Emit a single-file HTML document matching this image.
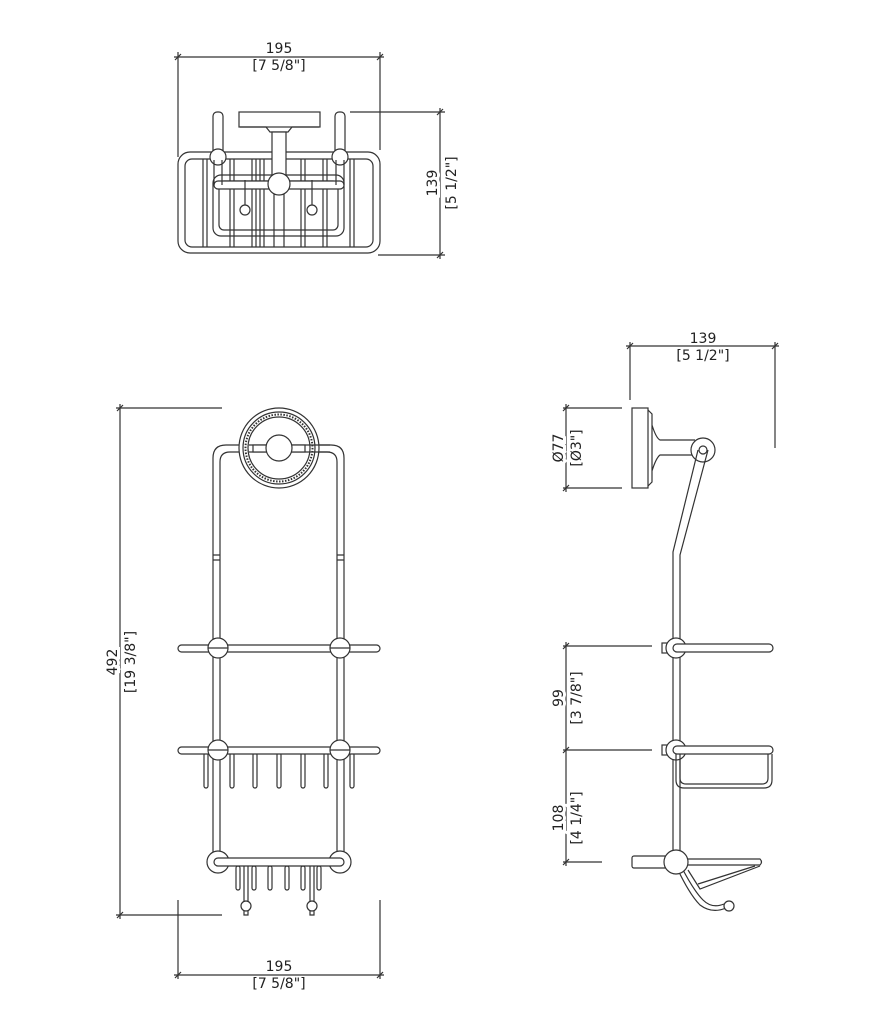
<!DOCTYPE html>
<html><head><meta charset="utf-8"><style>
html,body{margin:0;padding:0;background:#fff;}
svg{display:block}
text{font-family:"DejaVu Sans","Liberation Sans",sans-serif;font-size:14px;fill:#222;text-anchor:middle}
.t{paint-order:stroke;stroke:#fff;stroke-width:6px}
</style></head><body>
<svg width="881" height="1024" viewBox="0 0 881 1024" xmlns="http://www.w3.org/2000/svg">
<g fill="none" stroke="#333" stroke-width="1.2">
<!-- ===== TOP VIEW ===== -->
<line x1="178" y1="52" x2="178" y2="157"/>
<line x1="380" y1="52" x2="380" y2="150"/>
<line x1="174" y1="57" x2="384" y2="57"/>
<line x1="175" y1="60" x2="181" y2="54"/><line x1="377" y1="60" x2="383" y2="54"/>
<line x1="350" y1="112" x2="445" y2="112"/>
<line x1="378" y1="255" x2="445" y2="255"/>
<line x1="440" y1="108" x2="440" y2="259"/>
<line x1="437" y1="115" x2="443" y2="109"/><line x1="437" y1="258" x2="443" y2="252"/>
<rect x="178" y="152" width="202" height="101" rx="12"/>
<rect x="185" y="159" width="188" height="88" rx="7"/>
<rect x="213" y="175" width="131" height="61" rx="8"/>
<rect x="219" y="181" width="119" height="49" rx="5"/>
<g>
<line x1="203" y1="159" x2="203" y2="247"/><line x1="207" y1="159" x2="207" y2="247"/>
<line x1="230" y1="159" x2="230" y2="247"/><line x1="234" y1="159" x2="234" y2="247"/>
<line x1="252" y1="159" x2="252" y2="247"/><line x1="256" y1="159" x2="256" y2="247"/>
<line x1="260" y1="159" x2="260" y2="247"/><line x1="264" y1="159" x2="264" y2="247"/>
<line x1="274" y1="190" x2="274" y2="247"/><line x1="284" y1="190" x2="284" y2="247"/>
<line x1="301" y1="159" x2="301" y2="247"/><line x1="305" y1="159" x2="305" y2="247"/>
<line x1="323" y1="159" x2="323" y2="247"/><line x1="327" y1="159" x2="327" y2="247"/>
<line x1="350" y1="159" x2="350" y2="247"/><line x1="354" y1="159" x2="354" y2="247"/>
</g>
<rect x="214" y="181" width="130" height="8" rx="4" fill="#fff"/>
<rect x="213" y="112" width="10" height="45" rx="4" fill="#fff"/>
<rect x="335" y="112" width="10" height="45" rx="4" fill="#fff"/>
<circle cx="218" cy="157" r="8" fill="#fff"/><circle cx="340" cy="157" r="8" fill="#fff"/>
<path d="M214 160 v25 M222 160 v25 M336 160 v25 M344 160 v25"/>
<rect x="239" y="112" width="81" height="15" fill="#fff"/>
<path d="M240 127 L266 127 L270 132 L288 132 L292 127 L319 127"/>
<rect x="272" y="132" width="14" height="46" fill="#fff"/>
<circle cx="279" cy="184" r="11" fill="#fff"/>
<circle cx="245" cy="210" r="5"/><circle cx="312" cy="210" r="5"/>
<line x1="245" y1="180" x2="245" y2="205"/><line x1="312" y1="180" x2="312" y2="205"/>

<!-- ===== FRONT VIEW ===== -->
<line x1="116" y1="408" x2="222" y2="408"/>
<line x1="116" y1="915" x2="222" y2="915"/>
<line x1="120" y1="404" x2="120" y2="919"/>
<line x1="117" y1="411" x2="123" y2="405"/><line x1="117" y1="918" x2="123" y2="912"/>
<line x1="178" y1="900" x2="178" y2="979"/>
<line x1="380" y1="900" x2="380" y2="979"/>
<line x1="174" y1="975" x2="384" y2="975"/>
<line x1="175" y1="978" x2="181" y2="972"/><line x1="377" y1="978" x2="383" y2="972"/>
<!-- frame -->
<path d="M213 862 V458 Q213 445 226 445 H331 Q344 445 344 458 V862"/>
<path d="M220 862 V462 Q220 452 230 452 H327 Q337 452 337 462 V862"/>
<path d="M213 555 h7 M213 560 h7 M337 555 h7 M337 560 h7"/>
<circle cx="279" cy="448" r="40" fill="#fff"/>
<circle cx="279" cy="448" r="36"/>
<circle cx="279" cy="448" r="33.5" stroke-dasharray="1.5 1.5" stroke-width="2"/>
<circle cx="279" cy="448" r="31"/>
<path d="M249 445 H330 M249 452 H330"/>
<rect x="253" y="445" width="52" height="7" fill="#fff"/>
<circle cx="279" cy="448" r="13" fill="#fff"/>
<rect x="178" y="645" width="202" height="7" rx="3.5" fill="#fff"/>
<circle cx="218" cy="648" r="10" fill="#fff"/><circle cx="340" cy="648" r="10" fill="#fff"/>
<line x1="208" y1="648" x2="228" y2="648"/><line x1="330" y1="648" x2="350" y2="648"/>
<g fill="#fff">
<rect x="204" y="753" width="4" height="35" rx="2"/><rect x="230" y="753" width="4" height="35" rx="2"/>
<rect x="253" y="753" width="4" height="35" rx="2"/><rect x="277" y="753" width="4" height="35" rx="2"/>
<rect x="301" y="753" width="4" height="35" rx="2"/><rect x="324" y="753" width="4" height="35" rx="2"/>
<rect x="350" y="753" width="4" height="35" rx="2"/>
</g>
<rect x="178" y="747" width="202" height="7" rx="3.5" fill="#fff"/>
<circle cx="218" cy="750" r="10" fill="#fff"/><circle cx="340" cy="750" r="10" fill="#fff"/>
<line x1="208" y1="750" x2="228" y2="750"/><line x1="330" y1="750" x2="350" y2="750"/>
<g fill="#fff">
<rect x="236" y="866" width="4" height="24" rx="2"/><rect x="252" y="866" width="4" height="24" rx="2"/>
<rect x="268" y="866" width="4" height="24" rx="2"/><rect x="285" y="866" width="4" height="24" rx="2"/>
<rect x="301" y="866" width="4" height="24" rx="2"/><rect x="317" y="866" width="4" height="24" rx="2"/>
</g>
<path d="M244 864 V902 M248 864 V902 M310 864 V902 M314 864 V902"/>
<circle cx="246" cy="906" r="5" fill="#fff"/><circle cx="312" cy="906" r="5" fill="#fff"/>
<path d="M244 911 v4 h4 v-4 M310 911 v4 h4 v-4"/>
<circle cx="218" cy="862" r="11" fill="#fff"/><circle cx="340" cy="862" r="11" fill="#fff"/>
<rect x="214" y="858" width="130" height="8" rx="4" fill="#fff"/>

<!-- ===== SIDE VIEW ===== -->
<line x1="630" y1="342" x2="630" y2="400"/>
<line x1="775" y1="342" x2="775" y2="448"/>
<line x1="626" y1="346" x2="779" y2="346"/>
<line x1="627" y1="349" x2="633" y2="343"/><line x1="772" y1="349" x2="778" y2="343"/>
<line x1="563" y1="408" x2="622" y2="408"/><line x1="563" y1="488" x2="622" y2="488"/>
<line x1="566" y1="404" x2="566" y2="492"/>
<line x1="563" y1="411" x2="569" y2="405"/><line x1="563" y1="491" x2="569" y2="485"/>
<line x1="563" y1="646" x2="652" y2="646"/><line x1="563" y1="750" x2="652" y2="750"/>
<line x1="563" y1="862" x2="602" y2="862"/>
<line x1="566" y1="642" x2="566" y2="866"/>
<line x1="563" y1="649" x2="569" y2="643"/><line x1="563" y1="753" x2="569" y2="747"/><line x1="563" y1="865" x2="569" y2="859"/>
<rect x="632" y="408" width="16" height="80"/>
<path d="M648 410 L652 414 V482 L648 486 M652 425 Q656 438 660 440 H695 M652 471 Q656 458 660 455 H695"/>
<circle cx="703" cy="450" r="12" fill="#fff"/>
<path d="M698 450 L673 552 V862 M708 450 L680 555 V862"/>
<circle cx="703" cy="450" r="4" fill="#fff"/>
<!-- shelf 1 -->
<rect x="662" y="643" width="6" height="10" fill="#fff"/>
<circle cx="676" cy="648" r="10" fill="#fff"/>
<rect x="673" y="644" width="100" height="8" rx="4" fill="#fff"/>
<!-- shelf 2 -->
<rect x="662" y="745" width="6" height="10" fill="#fff"/>
<circle cx="676" cy="750" r="10" fill="#fff"/>
<path d="M676 753 V780 Q676 788 684 788 H764 Q772 788 772 780 V754 M680 754 V778 Q680 784 686 784 H762 Q768 784 768 778 V754"/>
<rect x="673" y="746" width="100" height="8" rx="4" fill="#fff"/>
<!-- bottom -->
<rect x="632" y="856" width="35" height="12" rx="2" fill="#fff"/>
<path d="M685 859 H760 Q763 862 760 865 H685"/>
<path d="M760 866 L700 889 L688 870 M755 866 L698 884"/>
<path d="M678 870 Q690 895 700 905 Q712 914 726 908 M682 868 Q694 891 703 900 Q712 909 724 904"/>
<circle cx="729" cy="906" r="5" fill="#fff"/>
<circle cx="676" cy="862" r="12" fill="#fff"/>
</g>
<!-- text -->
<text x="279" y="53">195</text><text x="279" y="70">[7 5/8"]</text>
<text class="t" transform="translate(432 183) rotate(-90)" x="0" y="5">139</text>
<text class="t" transform="translate(451 183) rotate(-90)" x="0" y="5">[5 1/2"]</text>
<text x="279" y="971">195</text><text x="279" y="988">[7 5/8"]</text>
<text class="t" transform="translate(112 662) rotate(-90)" x="0" y="5">492</text>
<text class="t" transform="translate(130 662) rotate(-90)" x="0" y="5">[19 3/8"]</text>
<text x="703" y="343">139</text><text x="703" y="360">[5 1/2"]</text>
<text class="t" transform="translate(558 448) rotate(-90)" x="0" y="5">Ø77</text>
<text class="t" transform="translate(576 448) rotate(-90)" x="0" y="5">[Ø3"]</text>
<text class="t" transform="translate(558 698) rotate(-90)" x="0" y="5">99</text>
<text class="t" transform="translate(576 698) rotate(-90)" x="0" y="5">[3 7/8"]</text>
<text class="t" transform="translate(558 818) rotate(-90)" x="0" y="5">108</text>
<text class="t" transform="translate(576 818) rotate(-90)" x="0" y="5">[4 1/4"]</text>
</svg>
</body></html>
